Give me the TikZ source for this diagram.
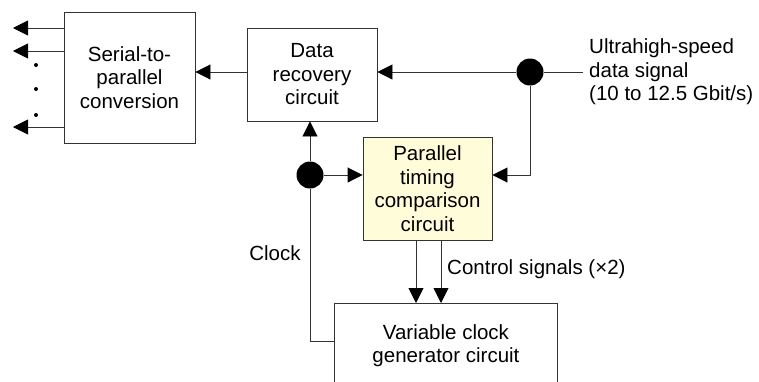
\documentclass[tikz,border=0pt]{standalone}
\usepackage{fontspec}
\setmainfont{Liberation Sans}
\usetikzlibrary{arrows.meta}
\definecolor{boxfill}{HTML}{FFFCDA}
\definecolor{linec}{HTML}{333333}
\begin{document}
\begin{tikzpicture}[x=1pt,y=-1pt,
  txt/.style={font=\fontsize{20.5}{23.5}\selectfont, align=center, inner sep=0pt},
  blk/.style={txt, draw=linec, line width=0.9pt, rectangle},
  conn/.style={draw=linec, line width=0.9pt},
  arr/.style={conn, -{Triangle[length=15pt,width=15pt,color=black]}},
  jdot/.style={circle, fill=black, minimum size=27pt, inner sep=0pt}]
\useasboundingbox (0,0) rectangle (759,381);
\node[blk, minimum width=131pt, minimum height=131pt] (serial) at (129.5,77.5) {Serial-to-\\parallel\\conversion};
\node[blk, minimum width=130pt, minimum height=93pt] (data) at (312,74.5) {Data\\recovery\\circuit};
\node[blk, fill=boxfill, minimum width=129pt, minimum height=103pt] (par) at (427.5,188.5) {Parallel\\timing\\comparison\\circuit};
\node[blk, minimum width=223pt, minimum height=84pt, anchor=north west] (vcg) at (334,303) {Variable clock\\generator circuit};
\node[jdot] (rdot) at (530,72) {};
\node[jdot] (ldot) at (310,175) {};
\coordinate (inend) at (583,72);
\node[txt, align=left, anchor=west] (inlbl) at (589,72) {Ultrahigh-speed\\data signal\\(10 to 12.5 Gbit/s)};
\node[txt, anchor=center] (clklbl) at (275,253) {Clock};
\node[txt, anchor=west] (ctllbl) at (447,269) {Control signals (\texttimes2)};
% outputs
\coordinate (o1) at (13,28);
\coordinate (o2) at (13,51);
\coordinate (o3) at (13,127);
\draw[arr] (serial.west |- o1) -- (o1);
\draw[arr] (serial.west |- o2) -- (o2);
\draw[arr] (serial.west |- o3) -- (o3);
\node[circle, fill=black, minimum size=4pt, inner sep=0pt] (d1) at (36,65) {};
\node[circle, fill=black, minimum size=4pt, inner sep=0pt] (d2) at (36,89) {};
\node[circle, fill=black, minimum size=4pt, inner sep=0pt] (d3) at (36,115) {};
% data path
\draw[conn] (inend) -- (rdot);
\draw[arr] (rdot) -- (rdot -| data.east);
\draw[arr] (data.west |- rdot) -- (rdot -| serial.east);
\coordinate (pin) at (par.east |- ldot);
\draw[arr] (rdot) |- (pin);
% clock
\coordinate (clk) at (310,341);
\draw[conn] (vcg.west |- clk) -- (clk) -- (ldot);
\draw[arr] (ldot) -- (ldot |- data.south);
\draw[arr] (ldot) -- (ldot -| par.west);
% control
\coordinate (c1) at (416,0);
\coordinate (c2) at (441,0);
\draw[arr] (c1 |- par.south) -- (c1 |- vcg.north);
\draw[arr] (c2 |- par.south) -- (c2 |- vcg.north);
\end{tikzpicture}
\end{document}
